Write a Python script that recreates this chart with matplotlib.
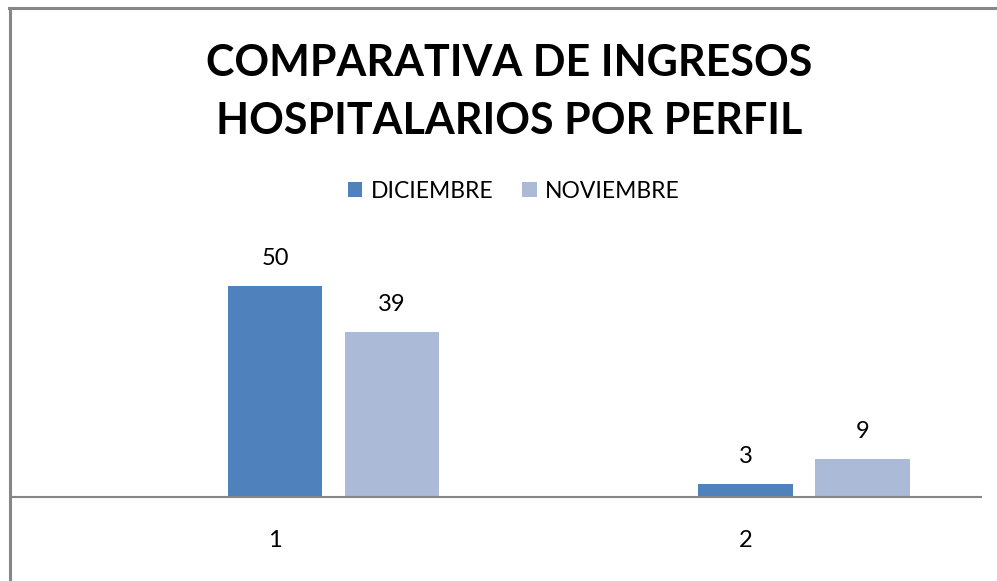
import matplotlib.pyplot as plt
from matplotlib.lines import Line2D

# data
perfiles = ['1', '2']
diciembre = [50, 3]
noviembre = [39, 9]

plt.rcParams['font.family'] = ['Lato', 'DejaVu Sans']

fig = plt.figure(figsize=(9.97, 5.81), dpi=100)
ax = fig.add_axes([0.012, 1 - 497 / 581, 0.972, 257 / 581])

x = [1, 2]
ancho = 0.2
paso = 0.2487
b1 = ax.bar(x, diciembre, ancho, color='#4f81bd', label='DICIEMBRE')
b2 = ax.bar([i + paso for i in x], noviembre, ancho, color='#aabad7', label='NOVIEMBRE')

for bars in (b1, b2):
    for r in bars:
        ax.annotate(str(int(r.get_height())), (r.get_x() + r.get_width() / 2, r.get_height()),
                    xytext=(0, 20), textcoords='offset points', ha='center', va='center',
                    fontsize=17, color='black')

ax.set_xlim(1 - 263 / 470.5, 2 + 235.5 / 470.5)
ax.set_ylim(0, 257 / 4.22)
ax.set_xticks(x)
ax.set_xticklabels(perfiles, fontsize=17)
ax.tick_params(axis='x', length=0, pad=24)
ax.set_yticks([])
for s in ['top', 'right', 'left']:
    ax.spines[s].set_visible(False)
ax.spines['bottom'].set_color('#868686')
ax.spines['bottom'].set_linewidth(1.5)

fig.text(0.511, 1 - 92 / 581, 'COMPARATIVA DE INGRESOS\nHOSPITALARIOS POR PERFIL',
         ha='center', va='center', fontsize=31, fontweight='bold', linespacing=1.55)

fig.legend(handles=[b1, b2], loc='center', bbox_to_anchor=(0.515, 1 - 191 / 581),
           ncol=2, frameon=False, fontsize=16.5, handlelength=0.65, handleheight=0.65,
           handletextpad=0.35, columnspacing=1.25)

# grey border on top and left edges
fig.add_artist(Line2D([10 / 997, 10 / 997], [0, 1 - 8 / 581], transform=fig.transFigure,
                      color='#868686', linewidth=2.2))
fig.add_artist(Line2D([9 / 997, 1], [1 - 8 / 581, 1 - 8 / 581], transform=fig.transFigure,
                      color='#868686', linewidth=2.2))

fig.savefig('out.png', dpi=100)
